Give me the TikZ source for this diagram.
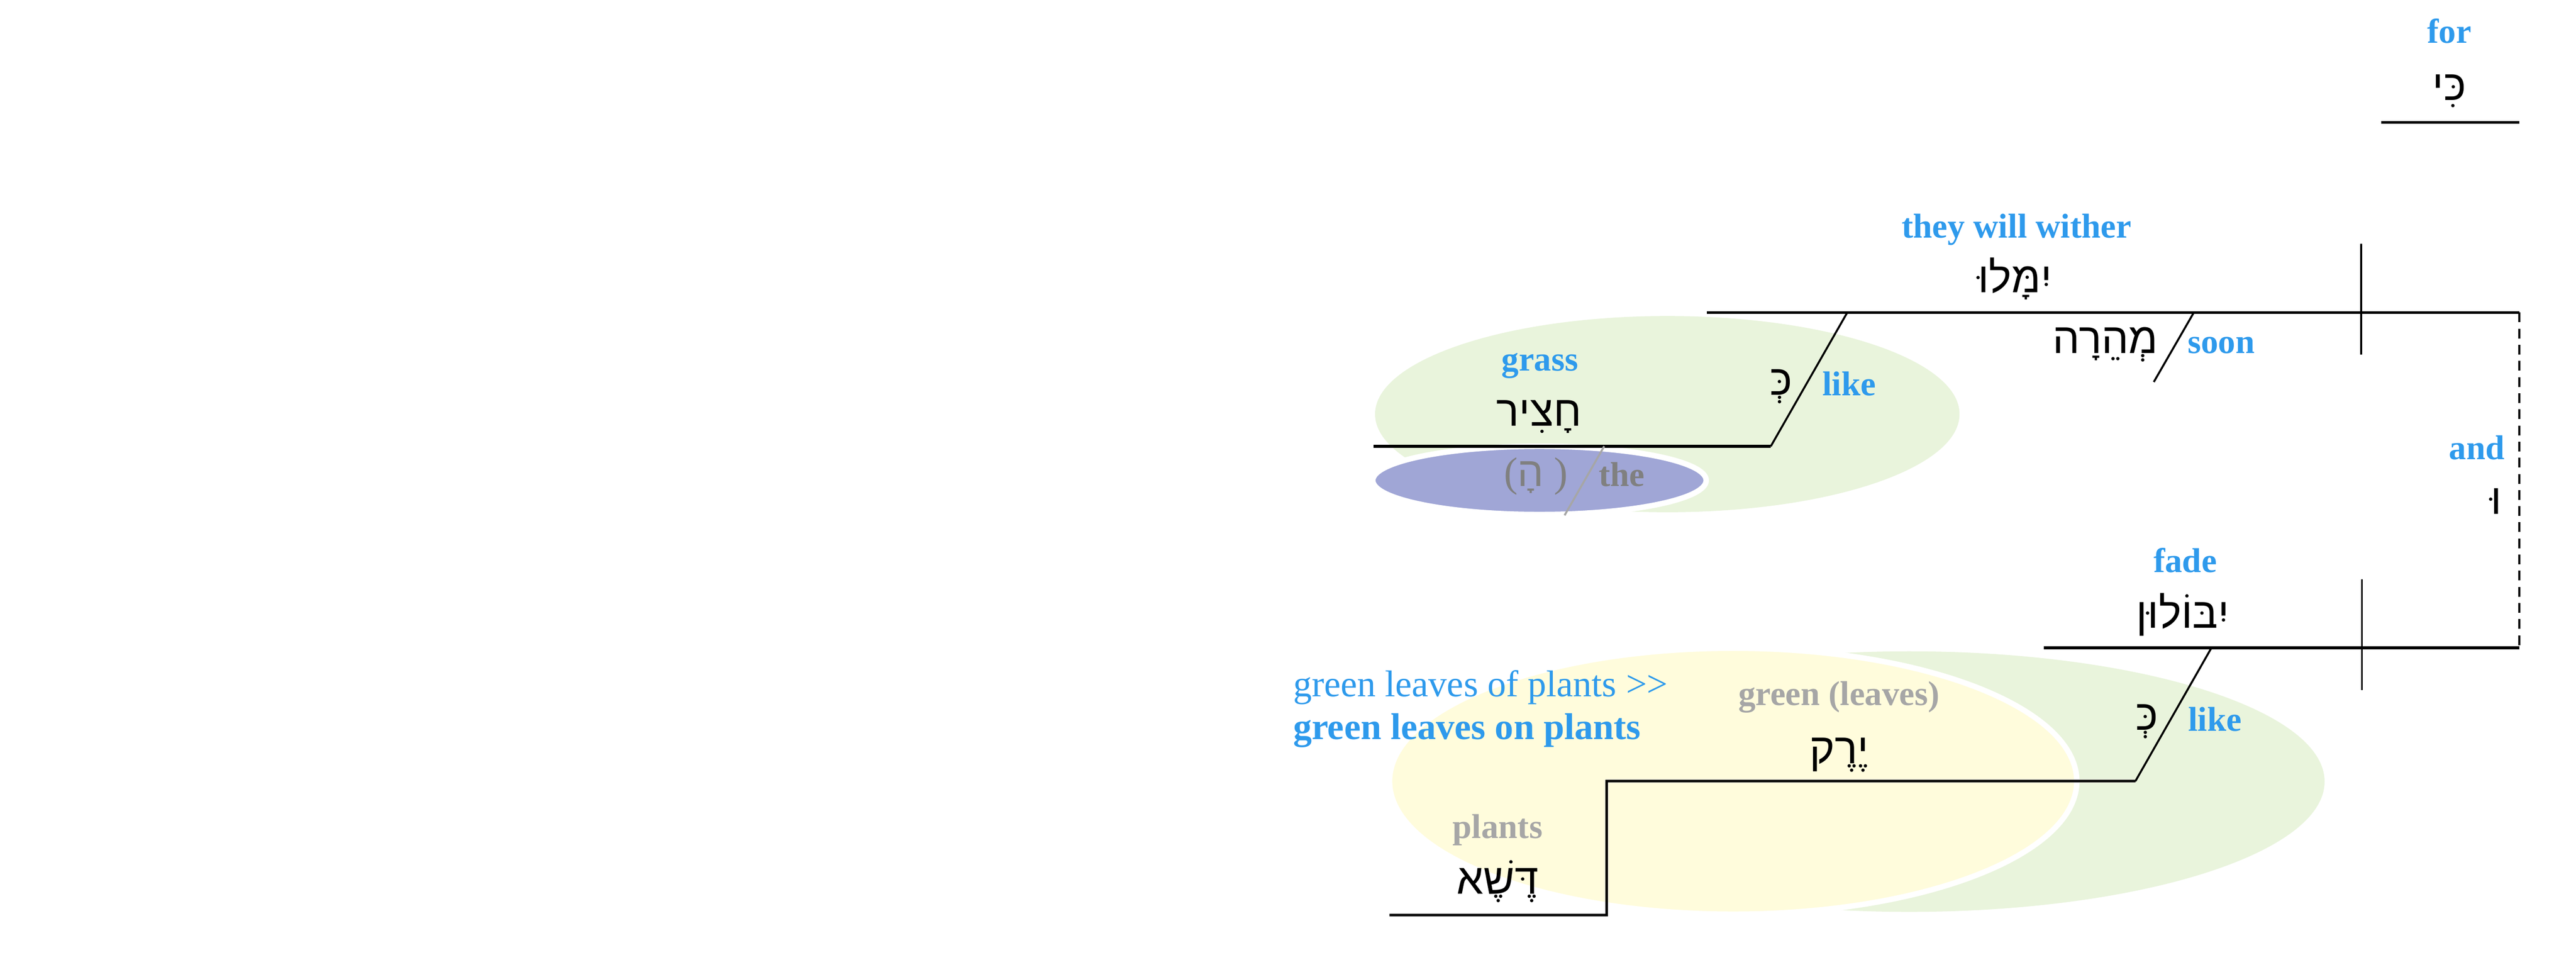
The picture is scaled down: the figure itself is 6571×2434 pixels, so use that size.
\documentclass[tikz,border=0pt]{standalone}
\usepackage{fontspec}
\setmainfont{Liberation Serif}
\newfontfamily\hebfont[Script=Hebrew]{Liberation Sans}
\TeXXeTstate=1
\definecolor{lblue}{RGB}{46,154,236}
\definecolor{lgreen}{RGB}{233,244,220}
\definecolor{lyellow}{RGB}{255,252,220}
\definecolor{lviolet}{RGB}{160,166,214}
\definecolor{tgrey}{RGB}{128,128,128}
\definecolor{lgrey}{RGB}{166,166,166}
\begin{document}
\begin{tikzpicture}[x=0.01cm,y=-0.01cm,
  eng/.style={font=\fontsize{25}{29}\selectfont\bfseries, text=lblue, inner sep=0pt, anchor=base},
  engreg/.style={font=\fontsize{27}{31}\selectfont, text=lblue, inner sep=0pt, anchor=base west},
  engnote/.style={font=\fontsize{27}{31}\selectfont\bfseries, text=lblue, inner sep=0pt, anchor=base west},
  greytxt/.style={font=\fontsize{25}{29}\selectfont\bfseries, text=lgrey, inner sep=0pt, anchor=base},
  heb/.style={font=\fontsize{31}{35}\selectfont\hebfont, inner sep=0pt, anchor=base},
  baseline/.style={line width=0.07cm, black},
  slant/.style={line width=0.05cm, black},
  divider/.style={line width=0.05cm, black},
  bubble/.style={draw=white, line width=0.14cm}
]
\useasboundingbox (0,0) rectangle (6571,2434);
\fill[white] (0,0) rectangle (6571,2434);

% ellipses
\fill[lgreen] (4253,1056) ellipse [x radius=7.45cm, y radius=2.5cm];
\path[bubble, fill=lviolet] (3927,1225) ellipse [x radius=4.25cm, y radius=0.87cm];
\fill[lgreen] (4870,1993) ellipse [x radius=10.59cm, y radius=3.32cm];
\path[bubble, fill=lyellow] (4421,1992) ellipse [x radius=8.76cm, y radius=3.39cm];

% coordinates
\coordinate (forL) at (6074,312);
\coordinate (forR) at (6426,312);
\coordinate (mainL) at (4354,797);
\coordinate (mainR) at (6426,797);
\coordinate (vTop) at (6023,621);
\coordinate (vBot) at (6023,904);
\coordinate (likeTop) at (4712,797);
\coordinate (likeBot) at (4517,1138);
\coordinate (grassL) at (3503,1138);
\coordinate (soonTop) at (5596,797);
\coordinate (soonBot) at (5494,974);
\coordinate (theTop) at (4092,1138);
\coordinate (theBot) at (3991,1314);
\coordinate (fadeL) at (5213,1652);
\coordinate (fadeR) at (6426,1652);
\coordinate (wTop) at (6025,1477);
\coordinate (wBot) at (6025,1760);
\coordinate (likeTwoTop) at (5641,1652);
\coordinate (likeTwoBot) at (5447,1992);
\coordinate (leavesL) at (4098,1992);
\coordinate (stepBot) at (4098,2333);
\coordinate (plantsL) at (3545,2333);

% lines
\draw[baseline] (forL) -- (forR);
\draw[baseline] (mainL) -- (mainR);
\draw[divider] (vTop) -- (vBot);
\draw[slant] (likeTop) -- (likeBot);
\draw[baseline] (likeBot) -- (grassL);
\draw[slant] (soonTop) -- (soonBot);
\draw[line width=0.05cm, lgrey] (theTop) -- (theBot);
\draw[baseline] (fadeL) -- (fadeR);
\draw[divider] (wTop) -- (wBot);
\draw[line width=1.4pt, dash pattern=on 7.1pt off 4.6pt] (mainR) -- (fadeR);
\draw[slant] (likeTwoTop) -- (likeTwoBot);
\draw[baseline] (likeTwoBot) -- (leavesL) -- (stepBot) -- (plantsL);

% texts
\node[eng] (tFor) at (6248,110) {for};
\node[heb] (hKi) at (6248,255) {\beginR כִּי\endR};
\node[eng] (tWither) at (5144,606) {they will wither};
\node[heb] (hWither) at (5140,746) {\beginR יִמָּלוּ\endR};
\node[heb] (hSoon) at (5371,901) {\beginR מְהֵרָה\endR};
\node[eng] (tSoon) at (5666,901) {soon};
\node[eng] (tGrass) at (3928,945) {grass};
\node[heb] (hGrass) at (3926,1086) {\beginR חָצִיר\endR};
\node[heb] (hLike) at (4544,1007) {\beginR כְּ\endR};
\node[eng] (tLike) at (4717,1009) {like};
\node[inner sep=0pt, anchor=base, text=tgrey, font=\fontsize{30}{34}\selectfont] (hThe) at (3918,1240) {({\hebfont\beginR הָ\endR}\ )};
\node[eng, text=tgrey] (tThe) at (4137,1240) {the};
\node[eng] (tAnd) at (6318,1172) {and};
\node[heb] (hAnd) at (6368,1311) {\beginR וּ\endR};
\node[eng] (tFade) at (5574,1460) {fade};
\node[heb] (hFade) at (5568,1601) {\beginR יִבּוֹלוּן\endR};
\node[engreg] (tNote) at (3298,1776) {green leaves of plants >{}>};
\node[engnote] (tNoteB) at (3298,1885) {green leaves on plants};
\node[greytxt] (tLeaves) at (4691,1799) {green (leaves)};
\node[heb] (hLeaves) at (4691,1947) {\beginR יֶרֶק\endR};
\node[heb] (hLikeTwo) at (5477,1862) {\beginR כְּ\endR};
\node[eng] (tLikeTwo) at (5650,1864) {like};
\node[greytxt] (tPlants) at (3820,2138) {plants};
\node[heb] (hPlants) at (3820,2280) {\beginR דֶּשֶׁא\endR};
\end{tikzpicture}
\end{document}
